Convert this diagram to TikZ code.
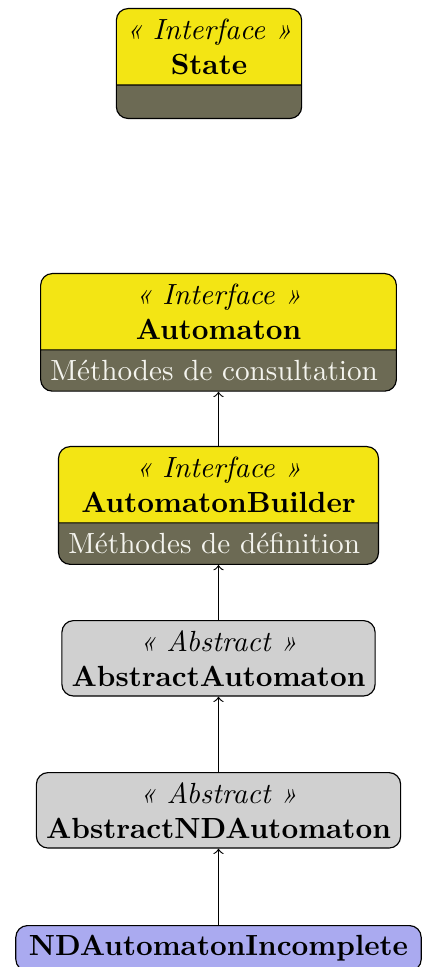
\documentclass[tikz,border=0pt]{standalone}
\usetikzlibrary{shapes.multipart}

\definecolor{ifaceyellow}{RGB}{243,229,20}
\definecolor{methgray}{RGB}{108,106,84}
\definecolor{methtext}{RGB}{244,244,238}
\definecolor{absgray}{RGB}{208,208,208}
\definecolor{concblue}{RGB}{170,170,240}

\tikzset{
iface/.style={draw,rounded corners,rectangle split,rectangle split parts=2,
  rectangle split part fill={ifaceyellow,methgray},
  rectangle split part align={center,left},align=center},
abstr/.style={draw,rounded corners,fill=absgray,align=center},
concr/.style={draw,rounded corners,fill=concblue,align=center},
}

\begin{document}
\begin{tikzpicture}[x=0.343pt,y=-0.343pt]
\useasboundingbox (0,0) rectangle (429,967);

%State
\node[iface,anchor=north
] (state) at (209,8){\textit{« Interface »}\\\textbf{State}
\nodepart{two}\rule{0pt}{4.4pt}};

%Automaton
\node[iface,anchor=north
] (automaton) at (218.5,273){\textit{« Interface »}\\\textbf{Automaton}
\nodepart{two}\color{methtext}Méthodes de consultation\hspace*{3pt}};

%AutomatonBuilder
\node[iface,anchor=north
] (builder) at (218.5,446){\textit{« Interface »}\\\textbf{AutomatonBuilder}
\nodepart{two}\color{methtext}Méthodes de définition\hspace*{3pt}};

%AbstractAutomaton
\node[abstr,anchor=north
] (absauto) at (218.5,620){\textit{« Abstract »}\\\textbf{AbstractAutomaton}};

%AbstractNDAutomaton
\node[abstr,anchor=north
] (absnd) at (218.5,772){\textit{« Abstract »}\\\textbf{AbstractNDAutomaton}};

%NDAutomatonIncomplete
\node[concr,anchor=north,inner xsep=4.5pt
] (ndinc) at (218.5,925){\textbf{NDAutomatonIncomplete}};

\draw[->] (builder.north) -- (automaton.south);
\draw[->] (absauto.north) -- (builder.south);
\draw[->] (absnd.north) -- (absauto.south);
\draw[->] (ndinc.north) -- (absnd.south);

\end{tikzpicture}
\end{document}
